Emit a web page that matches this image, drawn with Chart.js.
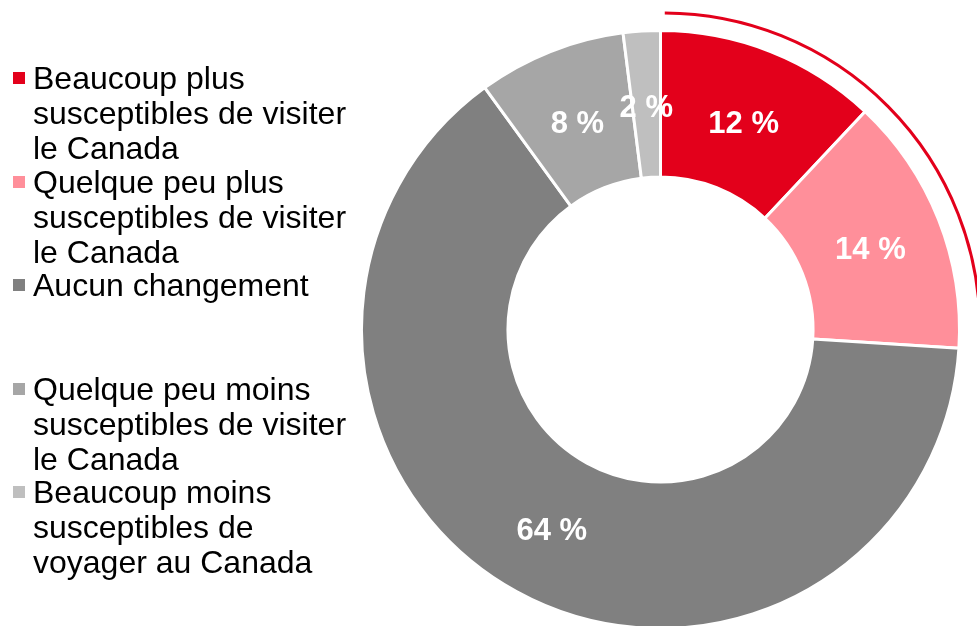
<!DOCTYPE html>
<html>
<head>
<meta charset="utf-8">
<script src="https://cdn.jsdelivr.net/npm/chart.js@4/dist/chart.umd.min.js"></script>
<style>
  html, body { margin: 0; padding: 0; background: #fff; overflow: hidden; }
  #wrap { position: relative; width: 977px; height: 626px; overflow: hidden; }
  #c { position: absolute; left: 0; top: 0; }
  .mk { position: absolute; left: 13px; width: 12px; height: 12px; }
  .tx { position: absolute; left: 33px; font-family: "Liberation Sans", Arial, sans-serif; font-size: 32px; line-height: 35px; color: #000; white-space: nowrap; }
</style>
</head>
<body>
<div id="wrap">
  <canvas id="c" width="977" height="626"></canvas>
  <div id="legend"></div>
</div>
<script>
// Categories (legend labels, line breaks as in the original)
const categories = [
  "Beaucoup plus\nsusceptibles de visiter\nle Canada",
  "Quelque peu plus\nsusceptibles de visiter\nle Canada",
  "Aucun changement",
  "Quelque peu moins\nsusceptibles de visiter\nle Canada",
  "Beaucoup moins\nsusceptibles de\nvoyager au Canada"
];
// Values (percent)
const values = [12, 14, 64, 8, 2];
// Slice colours
const colors = ["#E3001B", "#FF8F9A", "#808080", "#A6A6A6", "#BFBFBF"];
// Slices highlighted by the outer red arc
const highlighted = [0, 1];
const highlightColor = "#E3001B";

// HTML legend
const legend = document.getElementById('legend');
categories.forEach((cat, i) => {
  const top = 61 + 103.6 * i;
  const mk = document.createElement('div');
  mk.className = 'mk';
  mk.style.top = (top + 11) + 'px';
  mk.style.background = colors[i];
  legend.appendChild(mk);
  const tx = document.createElement('div');
  tx.className = 'tx';
  tx.style.top = top + 'px';
  cat.split('\n').forEach((line, j) => {
    if (j) tx.appendChild(document.createElement('br'));
    tx.appendChild(document.createTextNode(line));
  });
  legend.appendChild(tx);
});

const overlay = {
  id: 'overlay',
  afterDatasetsDraw(chart) {
    const meta = chart.getDatasetMeta(0);
    const ctx = chart.ctx;
    ctx.save();
    // outer highlight arc
    const a0 = meta.data[highlighted[0]];
    const a1 = meta.data[highlighted[highlighted.length - 1]];
    ctx.beginPath();
    ctx.arc(a0.x + 3, a0.y, a0.outerRadius + 17.5, a0.startAngle + 0.004, a1.endAngle);
    ctx.strokeStyle = highlightColor;
    ctx.lineWidth = 3;
    ctx.stroke();
    // data labels
    ctx.font = 'bold 31px "Liberation Sans", Arial, sans-serif';
    ctx.fillStyle = '#ffffff';
    ctx.textAlign = 'center';
    ctx.textBaseline = 'middle';
    meta.data.forEach((arc, i) => {
      const p = arc.tooltipPosition();
      ctx.fillText(values[i] + ' %', p.x, p.y + 4.5);
    });
    ctx.restore();
  }
};

new Chart(document.getElementById('c'), {
  type: 'doughnut',
  data: {
    labels: categories,
    datasets: [{
      data: values,
      backgroundColor: colors,
      borderColor: '#ffffff',
      borderWidth: 3,
      clip: false
    }]
  },
  options: {
    responsive: false,
    animation: false,
    devicePixelRatio: 1,
    radius: 299,
    cutout: 150.5,
    layout: { padding: { left: 344, right: 0, top: 33, bottom: 0 } },
    plugins: {
      legend: { display: false },
      tooltip: { enabled: false }
    }
  },
  plugins: [overlay]
});
</script>
</body>
</html>
